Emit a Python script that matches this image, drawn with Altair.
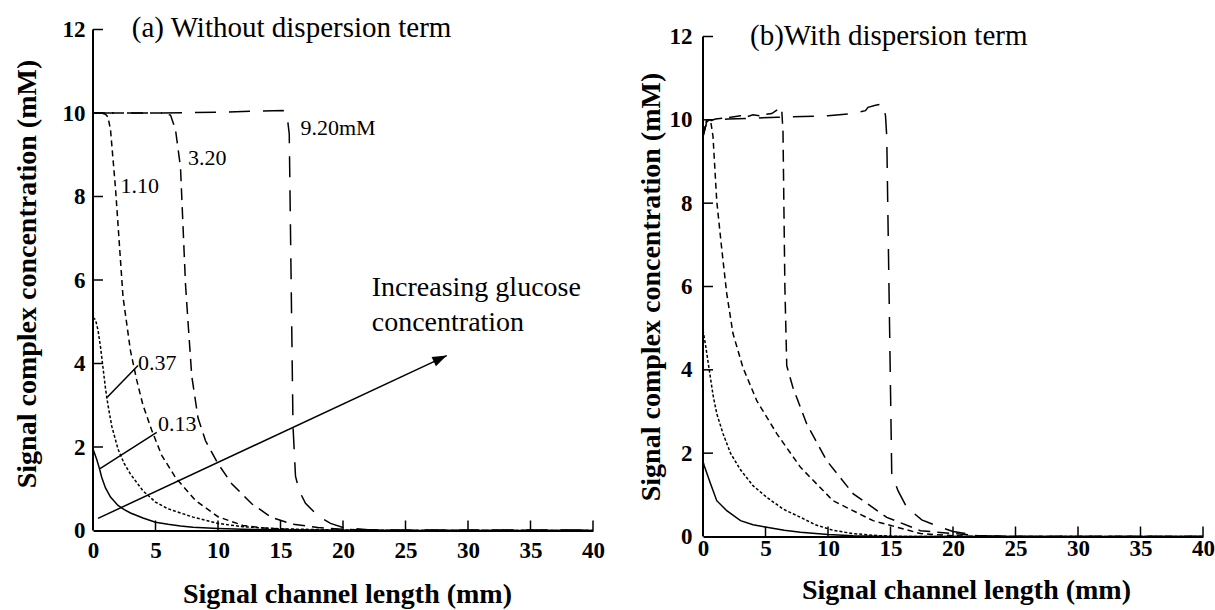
import altair as alt
import pandas as pd

FONT = "Liberation Serif"

# ---------------- data: panel (a) without dispersion term ----------------
A_X_013 = [0, 0.3, 0.5, 0.7, 1.0, 1.4, 2.0, 2.5, 3, 4, 5, 6, 7, 8, 10, 12, 15, 20, 25, 40]
A_Y_013 = [1.95, 1.7, 1.5, 1.27, 1.02, 0.8, 0.6, 0.5, 0.42, 0.3, 0.2, 0.15, 0.11, 0.08, 0.05, 0.03, 0.015, 0.005, 0, 0]

A_X_037 = [0, 0.2, 0.4, 0.6, 0.8, 1.0, 1.2, 1.5, 2.0, 2.5, 3, 4, 5, 6, 7, 8, 10, 12, 15, 20, 25, 40]
A_Y_037 = [5.1, 5.05, 4.8, 4.4, 3.9, 3.4, 3.0, 2.5, 1.95, 1.6, 1.35, 0.95, 0.68, 0.52, 0.42, 0.32, 0.17, 0.09, 0.04, 0.01, 0, 0]

A_X_110 = [0, 0.6, 1.0, 1.2, 1.4, 1.8, 2.4, 3.0, 3.5, 4.0, 4.7, 5.5, 6.6, 8.2, 10, 12, 14, 17, 20, 40]
A_Y_110 = [10, 10, 9.97, 9.9, 9.6, 8.2, 5.6, 4.3, 3.6, 3.0, 2.4, 1.8, 1.27, 0.72, 0.33, 0.12, 0.05, 0.01, 0, 0]

A_X_320 = [0, 5.5, 6.2, 6.6, 7.0, 7.4, 7.6, 7.9, 8.4, 9.0, 10, 11.1, 12.7, 14.3, 16, 18, 20, 22, 25, 40]
A_Y_320 = [10, 10, 9.95, 9.6, 8.7, 5.9, 5.0, 3.7, 2.7, 2.15, 1.6, 1.12, 0.64, 0.31, 0.15, 0.07, 0.03, 0.01, 0, 0]

A_X_920 = [0, 5, 10, 15.2, 15.5, 15.7, 16.0, 16.2, 16.5, 17, 18, 19, 20, 22, 25, 40]
A_Y_920 = [10, 10, 10.02, 10.06, 10.0, 9.5, 2.5, 1.3, 0.95, 0.65, 0.35, 0.17, 0.07, 0.02, 0.01, 0.01]

A_LABELS = ["9.20mM", "3.20", "1.10", "0.37", "0.13"]
A_LABEL_X = [16.6, 7.6, 2.2, 3.6, 5.2]
A_LABEL_Y = [9.65, 8.93, 8.26, 4.02, 2.56]

A_LEADER_X1 = [1.14, 0.56]
A_LEADER_Y1 = [3.19, 1.48]
A_LEADER_X2 = [3.6, 5.1]
A_LEADER_Y2 = [3.95, 2.35]

ARROW_X = [0.4, 28.3]
ARROW_Y = [0.29, 4.19]
ARROW_TEXT = ["Increasing glucose", "concentration"]
ARROW_TEXT_X = [22.3, 22.3]
ARROW_TEXT_Y = [5.82, 4.98]

A_TITLE = "(a) Without dispersion term"
A_TITLE_X = 3.1
A_TITLE_Y = 12.04

# ---------------- data: panel (b) with dispersion term ----------------
B_X_013 = [0, 0.1, 0.56, 1.1, 1.9, 3.0, 4.0, 5.1, 6.5, 7.8, 10, 12, 15, 40]
B_Y_013 = [1.8, 1.7, 1.3, 0.86, 0.62, 0.38, 0.28, 0.22, 0.15, 0.1, 0.05, 0.02, 0, 0]

B_X_037 = [0, 0.2, 0.4, 0.6, 0.8, 1.1, 1.6, 2.2, 3.0, 4.0, 5.1, 6.4, 7.8, 9, 10.4, 12, 14, 16, 40]
B_Y_037 = [4.95, 4.6, 4.2, 3.8, 3.4, 2.95, 2.47, 2.0, 1.6, 1.22, 0.94, 0.66, 0.46, 0.28, 0.15, 0.07, 0.02, 0, 0]

B_X_110 = [0, 0.3, 0.6, 0.8, 1.1, 1.5, 1.9, 2.4, 3.2, 4.3, 5.9, 7.8, 10.4, 13.6, 17.4, 20, 22, 40]
B_Y_110 = [9.7, 10.0, 10.0, 9.6, 8.05, 6.9, 5.83, 4.87, 4.05, 3.26, 2.47, 1.66, 0.86, 0.38, 0.07, 0.02, 0, 0]

B_X_320 = [0, 0.3, 1, 2, 3, 3.5, 4, 4.5, 5, 5.5, 6.0, 6.3, 6.4, 6.55, 6.7, 7.2, 8.3, 9.9, 12, 14.7, 17.4, 20, 22, 25, 40]
B_Y_320 = [9.6, 9.95, 10.02, 10.05, 10.1, 10.07, 10.12, 10.1, 10.13, 10.15, 10.25, 10.25, 9.7, 6.0, 4.1, 3.57, 2.7, 1.82, 1.03, 0.46, 0.14, 0.07, 0.02, 0, 0]

B_X_920 = [0, 0.3, 0.5, 2, 4, 6, 8, 10, 12, 13, 13.2, 13.8, 14.4, 14.6, 14.7, 15.1, 15.6, 16.3, 17.5, 19, 20, 22, 24, 40]
B_Y_920 = [9.6, 9.95, 10.0, 10.02, 10.04, 10.06, 10.08, 10.1, 10.15, 10.22, 10.3, 10.35, 10.38, 10.1, 9.6, 1.5, 1.1, 0.7, 0.4, 0.22, 0.12, 0.02, 0, 0]

B_TITLE = "(b)With dispersion term"
B_TITLE_X = 3.76
B_TITLE_Y = 12.01

# ---------------- axes ----------------
X_LABEL_VALUES = [0, 5, 10, 15, 20, 25, 30, 35, 40]
Y_LABEL_VALUES = [0, 2, 4, 6, 8, 10, 12]
X_TICKS = [5, 10, 15, 20, 25, 30, 35, 40]
Y_TICKS = [2, 4, 6, 8, 10, 12]
Y_AXIS_LINE = [0, 12]

DASHES = {"0.13": None, "0.37": [3, 2], "1.10": [6, 4], "3.20": [12, 7], "9.20": [21, 13]}

XSCALE = alt.Scale(domain=[0, 40], nice=False, zero=False)


def make_axes(xlp, ylp, xtp, ytp, xtx, yty, xtfs):
    xa = alt.Axis(title="Signal channel length (mm)", values=X_LABEL_VALUES, format="d",
                  ticks=False, tickSize=0, grid=False, domainColor="black", domainWidth=2,
                  labelFont=FONT, labelFontWeight="bold", labelFontSize=23, labelColor="black",
                  labelPadding=xlp, labelFlush=False, labelOverlap=False,
                  titleFont=FONT, titleFontWeight="bold", titleFontSize=xtfs, titleColor="black",
                  titlePadding=xtp, titleX=xtx)
    ya = alt.Axis(title="Signal complex concentration (mM)", values=Y_LABEL_VALUES, format="d",
                  ticks=False, tickSize=0, grid=False, domain=False,
                  labelFont=FONT, labelFontWeight="bold", labelFontSize=23, labelColor="black",
                  labelPadding=ylp, labelFlush=False, labelOverlap=False,
                  titleFont=FONT, titleFontWeight="bold", titleFontSize=28, titleColor="black",
                  titlePadding=ytp, titleY=yty)
    return xa, ya


def panel(curves, w, h, ytop, axes, extra):
    xa, ya = axes
    yscale = alt.Scale(domain=[0, ytop], nice=False, zero=False)

    def X(f):
        return alt.X(f, type="quantitative", scale=XSCALE, axis=xa)

    def Y(f):
        return alt.Y(f, type="quantitative", scale=yscale, axis=ya)

    layers = []
    for name, xs, ys in curves:
        df = pd.DataFrame({"x": xs, "y": ys, "i": list(range(len(xs)))})
        kw = dict(color="black", strokeWidth=1.5, clip=True)
        if DASHES[name]:
            kw["strokeDash"] = DASHES[name]
        layers.append(alt.Chart(df).mark_line(**kw).encode(x=X("x"), y=Y("y"), order="i:Q"))

    # y axis line from 0 to 12
    yl = pd.DataFrame({"y": [Y_AXIS_LINE[0]], "y2": [Y_AXIS_LINE[1]]})
    layers.append(alt.Chart(yl).mark_rule(color="black", strokeWidth=2).encode(
        y=Y("y"), y2="y2:Q", x=alt.value(0)))
    # inward tick marks
    tx = pd.DataFrame({"x": X_TICKS})
    layers.append(alt.Chart(tx).mark_rule(color="black", strokeWidth=1.5).encode(
        x=X("x"), y=alt.value(h), y2=alt.value(h - 10)))
    ty = pd.DataFrame({"y": Y_TICKS})
    layers.append(alt.Chart(ty).mark_rule(color="black", strokeWidth=1.5).encode(
        y=Y("y"), x=alt.value(0), x2=alt.value(10)))

    layers.extend(extra(X, Y))
    return alt.layer(*layers).properties(width=w, height=h)


def extra_a(X, Y):
    out = []
    t = pd.DataFrame({"x": [A_TITLE_X], "y": [A_TITLE_Y], "t": [A_TITLE]})
    out.append(alt.Chart(t).mark_text(font=FONT, fontSize=29, align="left", baseline="middle",
                                      color="black").encode(x=X("x"), y=Y("y"), text="t:N"))
    lab = pd.DataFrame({"x": A_LABEL_X, "y": A_LABEL_Y, "t": A_LABELS})
    out.append(alt.Chart(lab).mark_text(font=FONT, fontSize=22, align="left", baseline="middle",
                                        color="black").encode(x=X("x"), y=Y("y"), text="t:N"))
    ld = pd.DataFrame({"x": A_LEADER_X1, "y": A_LEADER_Y1, "x2": A_LEADER_X2, "y2": A_LEADER_Y2})
    out.append(alt.Chart(ld).mark_rule(color="black", strokeWidth=1.5).encode(
        x=X("x"), y=Y("y"), x2="x2:Q", y2="y2:Q"))
    ar = pd.DataFrame({"x": [ARROW_X[0]], "y": [ARROW_Y[0]], "x2": [ARROW_X[1]], "y2": [ARROW_Y[1]]})
    out.append(alt.Chart(ar).mark_rule(color="black", strokeWidth=1.5).encode(
        x=X("x"), y=Y("y"), x2="x2:Q", y2="y2:Q"))
    head = pd.DataFrame({"x": [ARROW_X[1]], "y": [ARROW_Y[1]]})
    out.append(alt.Chart(head).mark_point(shape="M0,0L0.5,1.4L-0.5,1.4Z", filled=True, color="black",
                                          opacity=1, size=420, angle=65).encode(x=X("x"), y=Y("y")))
    at = pd.DataFrame({"x": ARROW_TEXT_X, "y": ARROW_TEXT_Y, "t": ARROW_TEXT})
    out.append(alt.Chart(at).mark_text(font=FONT, fontSize=28, align="left", baseline="middle",
                                       color="black").encode(x=X("x"), y=Y("y"), text="t:N"))
    return out


def extra_b(X, Y):
    t = pd.DataFrame({"x": [B_TITLE_X], "y": [B_TITLE_Y], "t": [B_TITLE]})
    return [alt.Chart(t).mark_text(font=FONT, fontSize=29, align="left", baseline="middle",
                                   color="black").encode(x=X("x"), y=Y("y"), text="t:N")]


curves_a = [("0.13", A_X_013, A_Y_013), ("0.37", A_X_037, A_Y_037), ("1.10", A_X_110, A_Y_110),
            ("3.20", A_X_320, A_Y_320), ("9.20", A_X_920, A_Y_920)]
curves_b = [("0.13", B_X_013, B_Y_013), ("0.37", B_X_037, B_Y_037), ("1.10", B_X_110, B_Y_110),
            ("3.20", B_X_320, B_Y_320), ("9.20", B_X_920, B_Y_920)]

left = panel(curves_a, 500, 501, 12, make_axes(9, 8, 18, 21, 254, 244, 28), extra_a)
right = panel(curves_b, 500, 507, 12.168, make_axes(1, 11, 16, 4, 263, 257, 28), extra_b)

chart = alt.hconcat(left, right, spacing=32).properties(
    padding={"left": 13, "top": 13.5, "right": 0, "bottom": 0},
    background="white",
).configure_view(stroke=None)

chart.save("out.html", embed_options={"renderer": "svg", "actions": False})
